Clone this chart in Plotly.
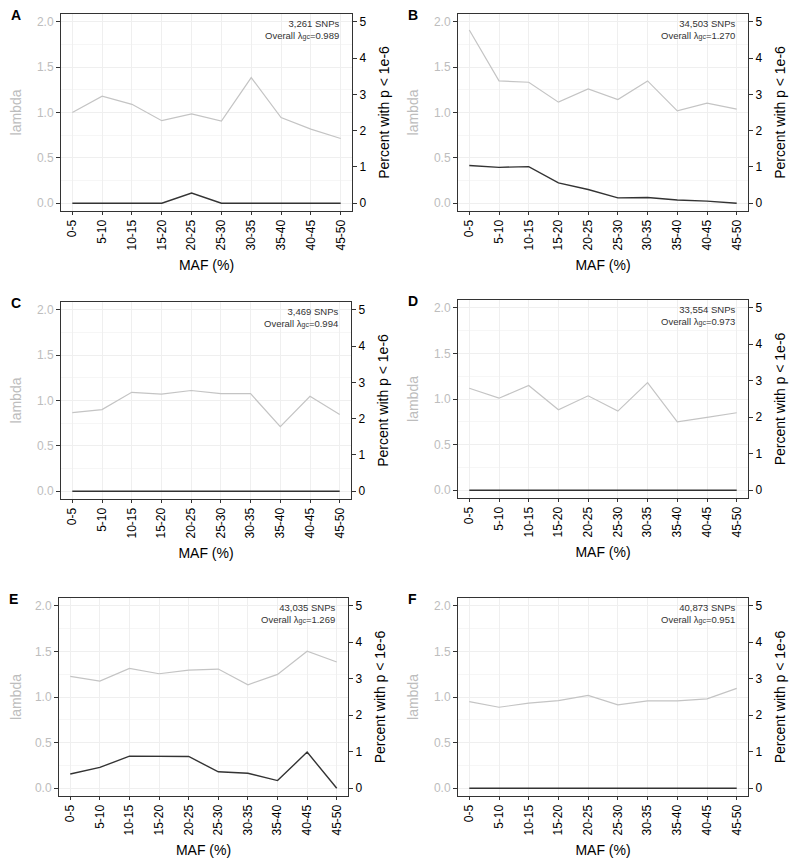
import plotly.graph_objects as go

categories = ["0-5", "5-10", "10-15", "15-20", "20-25", "25-30", "30-35", "35-40", "40-45", "45-50"]

panel_labels = ["A", "B", "C", "D", "E", "F"]
snp_counts = ["3,261", "34,503", "3,469", "33,554", "43,035", "40,873"]
overall_lambda = ["0.989", "1.270", "0.994", "0.973", "1.269", "0.951"]

lambda_A = [1.00, 1.18, 1.09, 0.91, 0.985, 0.905, 1.385, 0.945, 0.817, 0.714]
lambda_B = [1.908, 1.348, 1.333, 1.114, 1.26, 1.143, 1.348, 1.018, 1.103, 1.037]
lambda_C = [0.867, 0.90, 1.09, 1.071, 1.11, 1.075, 1.075, 0.713, 1.046, 0.845]
lambda_D = [1.118, 1.009, 1.148, 0.882, 1.035, 0.867, 1.18, 0.75, 0.798, 0.849]
lambda_E = [1.226, 1.174, 1.314, 1.255, 1.295, 1.306, 1.134, 1.248, 1.501, 1.383]
lambda_F = [0.95, 0.888, 0.932, 0.961, 1.017, 0.914, 0.958, 0.958, 0.98, 1.094]

pct_A = [0, 0, 0, 0, 0.284, 0, 0, 0, 0, 0]
pct_B = [1.04, 0.99, 1.01, 0.56, 0.38, 0.15, 0.16, 0.09, 0.06, 0.0]
pct_C = [0, 0, 0, 0, 0, 0, 0, 0, 0, 0]
pct_D = [0, 0, 0, 0, 0, 0, 0, 0, 0, 0]
pct_E = [0.39, 0.57, 0.88, 0.88, 0.87, 0.45, 0.41, 0.21, 0.99, 0.0]
pct_F = [0, 0, 0, 0, 0, 0, 0, 0, 0, 0]

lambdas = [lambda_A, lambda_B, lambda_C, lambda_D, lambda_E, lambda_F]
pcts = [pct_A, pct_B, pct_C, pct_D, pct_E, pct_F]

# the page body has an 8px margin, so the figure is drawn 8px in from the window edge
OFF = 8
W, H = 800 - OFF, 865 - OFF
# plot-area boxes in window pixels: (left, right, top, bottom)
boxes = [
    (61, 352, 14, 211),
    (458, 748, 14, 211),
    (61, 351, 302, 499),
    (458, 748, 300, 498),
    (59, 348, 598, 796),
    (458, 748, 598, 796),
]

LAM_RANGE = [-0.085, 2.085]
PCT_RANGE = [LAM_RANGE[0] * 2.5, LAM_RANGE[1] * 2.5]
FONT = "Liberation Sans, Arial, sans-serif"
LIGHT = "#c4c4c4"
DARK = "#333333"
GRID = "#efefef"

fig = go.Figure()
layout = dict(
    width=W, height=H, margin=dict(l=0, r=0, t=0, b=0, autoexpand=False),
    paper_bgcolor="white", plot_bgcolor="white", showlegend=False,
    font=dict(family=FONT, color="black"),
)
annotations = []

for k in range(6):
    xn = "x" if k == 0 else f"x{k+1}"
    yl = "y" if k == 0 else f"y{2*k+1}"
    yr = f"y{2*k+2}"
    xkey = "xaxis" if k == 0 else f"xaxis{k+1}"
    ylkey = "yaxis" if k == 0 else f"yaxis{2*k+1}"
    yrkey = f"yaxis{2*k+2}"
    l, r, t, b = [v - OFF for v in boxes[k]]
    xdom = [l / W, r / W]
    ydom = [1 - b / H, 1 - t / H]

    fig.add_trace(go.Scatter(x=categories, y=lambdas[k], mode="lines",
                             line=dict(color=LIGHT, width=1.2), xaxis=xn, yaxis=yl))
    fig.add_trace(go.Scatter(x=categories, y=pcts[k], mode="lines",
                             line=dict(color=DARK, width=1.4), xaxis=xn, yaxis=yr))

    layout[xkey] = dict(
        domain=xdom, anchor=yl, type="category", categoryorder="array",
        categoryarray=categories, range=[-0.38, 9.38], automargin=False,
        tickangle=-90, tickfont=dict(size=12, color="black"),
        ticks="outside", ticklen=3, tickcolor=DARK,
        showline=True, linecolor=DARK, linewidth=1, mirror=True,
        showgrid=True, gridcolor=GRID, gridwidth=1, zeroline=False,
        title=dict(text="MAF (%)", font=dict(size=14), standoff=10),
    )
    layout[ylkey] = dict(
        domain=ydom, anchor=xn, range=LAM_RANGE, automargin=False,
        tickvals=[0, 0.5, 1.0, 1.5, 2.0], ticktext=["0.0", "0.5", "1.0", "1.5", "2.0"],
        tickfont=dict(size=12, color="#bdbdbd"),
        ticks="outside", ticklen=4, tickcolor=DARK,
        showline=True, linecolor=DARK, linewidth=1, mirror=True,
        showgrid=True, gridcolor=GRID, gridwidth=1, zeroline=False,
        minor=dict(tickvals=[0.25, 0.75, 1.25, 1.75], showgrid=True, gridcolor="#f6f6f6", ticks=""),
        title=dict(text="lambda", font=dict(size=14, color="#bdbdbd"), standoff=12),
    )
    layout[yrkey] = dict(
        overlaying=yl, anchor=xn, side="right", range=PCT_RANGE, automargin=False,
        tickvals=[0, 1, 2, 3, 4, 5],
        tickfont=dict(size=12, color="black"),
        ticks="outside", ticklen=4, tickcolor=DARK,
        showline=False, showgrid=False, zeroline=False,
        title=dict(text="Percent with p < 1e-6", font=dict(size=14), standoff=13),
    )

    annotations.append(dict(
        x=categories[-1], y=2.06, xref=xn, yref=yl, xanchor="right", yanchor="top",
        text=f"{snp_counts[k]} SNPs<br>Overall λ<span style='font-size:7px'>gc</span>={overall_lambda[k]}",
        showarrow=False, align="right", font=dict(size=9.5, color="#333333"),
    ))
    annotations.append(dict(
        x=(l - 52) / W, y=1 - (t + 1) / H, xref="paper", yref="paper",
        xanchor="left", yanchor="middle", text=f"<b>{panel_labels[k]}</b>",
        showarrow=False, font=dict(size=14, color="black"),
    ))

layout["annotations"] = annotations
fig.update_layout(**layout)
fig.write_html("out.html")
